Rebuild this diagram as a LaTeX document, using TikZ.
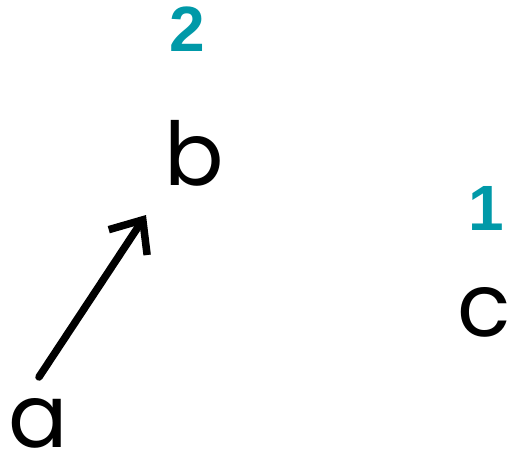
\documentclass[tikz,border=0pt]{standalone}
\usepackage{fontspec}
\setmainfont{Liberation Sans}
\newfontfamily\handfont{Poppins}
\usetikzlibrary{arrows.meta}
\definecolor{tealnum}{RGB}{0,153,168}
\tikzset{
  letter/.style={inner sep=0pt, font=\handfont\fontsize{88}{88}\selectfont, text=black},
  num/.style={inner sep=0pt, font=\bfseries\fontsize{64}{64}\selectfont, text=tealnum},
  conn/.style={line width=7.5pt, line cap=round, line join=round,
    -{Straight Barb[length=27pt,width=46pt,line width=7.5pt]}}
}
\begin{document}
\begin{tikzpicture}[x=1pt,y=-1pt]
\useasboundingbox (0,0) rectangle (512,456);
\node[num] (n2) at (187,29) {2};
\node[num] (n1) at (486,208) {1};
\node[letter] (b) at (194,153) {b};
\node[letter] (c) at (484,312) {c};
\node[letter] (a) at (38,423) {a};
\coordinate (tail) at (39,377);
\coordinate (head) at (146,215);
\draw[conn] (tail) -- (head);
\end{tikzpicture}
\end{document}
